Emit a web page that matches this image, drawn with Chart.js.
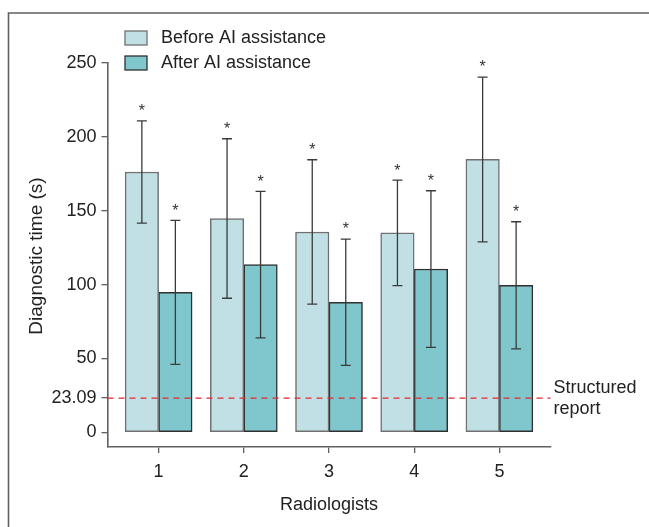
<!DOCTYPE html>
<html>
<head>
<meta charset="utf-8">
<script src="https://cdn.jsdelivr.net/npm/chart.js@4.4.1/dist/chart.umd.min.js"></script>
<style>
  html, body { margin: 0; padding: 0; background: #ffffff; }
  canvas { display: block; }
</style>
</head>
<body>
<canvas id="c" width="649" height="527"></canvas>
<script>
// ---- data ----
const categories = [1, 2, 3, 4, 5];
const seriesLabels = ['Before AI assistance', 'After AI assistance'];
const beforeMean = [176.2, 144.7, 135.6, 135.0, 184.7];
const beforeSD   = [34.6, 54.0, 48.9, 35.7, 55.8];
const afterMean  = [94.7, 113.5, 88.0, 110.5, 99.5];
const afterSD    = [48.8, 49.6, 42.8, 53.0, 43.0];
const yTickValues = [0, 23.09, 50, 100, 150, 200, 250];
const refValue = 23.09;
const refLabel = ['Structured', 'report'];
const xTitle = 'Radiologists';
const yTitle = 'Diagnostic time (s)';

const FONT = "'Liberation Sans', Arial, sans-serif";
const colBefore = '#c0e0e6', colAfter = '#80c6cd';
const borderBefore = '#707070', borderAfter = '#303030';

const sds = [beforeSD, afterSD];
const means = [beforeMean, afterMean];

const extras = {
  id: 'extras',
  beforeDraw(chart) {
    const ctx = chart.ctx;
    ctx.save();
    ctx.strokeStyle = '#606060';
    ctx.lineWidth = 1.6;
    ctx.beginPath();
    ctx.moveTo(8.5, 527);
    ctx.lineTo(8.5, 13);
    ctx.lineTo(649, 13);
    ctx.stroke();
    ctx.restore();
  },
  afterDatasetsDraw(chart) {
    const ctx = chart.ctx;
    const ys = chart.scales.y;
    const ca = chart.chartArea;
    ctx.save();
    // error bars + asterisks
    chart.data.datasets.forEach((ds, di) => {
      const meta = chart.getDatasetMeta(di);
      meta.data.forEach((el, i) => {
        const m = means[di][i], s = sds[di][i];
        const yl = ys.getPixelForValue(m - s);
        const yh = ys.getPixelForValue(m + s);
        const x = el.x;
        ctx.strokeStyle = '#3a3a3a';
        ctx.lineWidth = 1.3;
        ctx.beginPath();
        ctx.moveTo(x, yl); ctx.lineTo(x, yh);
        ctx.moveTo(x - 5, yl); ctx.lineTo(x + 5, yl);
        ctx.moveTo(x - 5, yh); ctx.lineTo(x + 5, yh);
        ctx.stroke();
        ctx.fillStyle = '#333';
        ctx.font = '16px ' + FONT;
        ctx.textAlign = 'center';
        ctx.textBaseline = 'middle';
        ctx.fillText('*', x, yh - 9);
      });
    });
    // reference line
    const yr = ys.getPixelForValue(refValue);
    ctx.strokeStyle = '#e8262c';
    ctx.lineWidth = 1.4;
    ctx.setLineDash([6, 5]);
    ctx.beginPath();
    ctx.moveTo(ca.left, yr); ctx.lineTo(ca.right, yr);
    ctx.stroke();
    ctx.setLineDash([]);
    ctx.fillStyle = '#222';
    ctx.font = '18px ' + FONT;
    ctx.textAlign = 'left';
    ctx.textBaseline = 'middle';
    ctx.fillText(refLabel[0], ca.right + 3, yr - 10);
    ctx.fillText(refLabel[1], ca.right + 3, yr + 11);
    // legend
    const fills = [colBefore, colAfter], borders = [borderBefore, borderAfter];
    seriesLabels.forEach((lab, i) => {
      const y0 = 31 + i * 25;
      ctx.fillStyle = fills[i];
      ctx.fillRect(125, y0, 22, 14);
      ctx.strokeStyle = borders[i];
      ctx.lineWidth = 1.3;
      ctx.strokeRect(125, y0, 22, 14);
      ctx.fillStyle = '#222';
      ctx.font = '18px ' + FONT;
      ctx.textBaseline = 'middle';
      ctx.textAlign = 'left';
      ctx.fillText(lab, 161, y0 + 7);
    });
    // axis titles
    ctx.font = '18px ' + FONT;
    ctx.textAlign = 'center';
    ctx.textBaseline = 'middle';
    ctx.fillText(xTitle, (ca.left + ca.right) / 2, 505);
    ctx.save();
    ctx.translate(37, 256);
    ctx.rotate(-Math.PI / 2);
    ctx.font = '19px ' + FONT;
    ctx.fillText(yTitle, 0, 0);
    ctx.restore();
    ctx.restore();
  }
};

new Chart(document.getElementById('c'), {
  type: 'bar',
  data: {
    datasets: [
      {
        label: seriesLabels[0],
        data: categories.map((c, i) => ({ x: c, y: beforeMean[i] })),
        backgroundColor: colBefore,
        borderColor: borderBefore,
        borderWidth: 1.5,
        borderSkipped: false
      },
      {
        label: seriesLabels[1],
        data: categories.map((c, i) => ({ x: c, y: afterMean[i] })),
        backgroundColor: colAfter,
        borderColor: borderAfter,
        borderWidth: 1.5,
        borderSkipped: false
      }
    ]
  },
  options: {
    responsive: false,
    animation: false,
    barThickness: 33.5,
    layout: { padding: { left: 0, right: 98.5, top: 63, bottom: 0 } },
    plugins: { legend: { display: false }, tooltip: { enabled: false } },
    scales: {
      x: {
        type: 'linear',
        offset: false,
        min: 0.4, max: 5.6,
        afterBuildTicks: (s) => { s.ticks = categories.map(v => ({ value: v })); },
        afterFit: (s) => { s.height = 80; },
        grid: { display: true, offset: false, drawOnChartArea: false, drawTicks: true, tickLength: 6, color: '#606060', lineWidth: 1.3 },
        border: { display: true, color: '#606060', width: 1.6 },
        ticks: { font: { family: FONT, size: 18 }, color: '#222', padding: 8, callback: (v) => String(v), maxRotation: 0 }
      },
      y: {
        type: 'linear',
        min: -10, max: 250,
        afterBuildTicks: (s) => { s.ticks = yTickValues.map(v => ({ value: v })); },
        afterFit: (s) => { s.width = 107.5; },
        grid: { display: true, drawOnChartArea: false, drawTicks: true, tickLength: 6, color: '#606060', lineWidth: 1.3 },
        border: { display: true, color: '#606060', width: 1.6 },
        ticks: { font: { family: FONT, size: 18 }, color: '#222', padding: 5, callback: (v) => String(v) }
      }
    }
  },
  plugins: [extras]
});
</script>
</body>
</html>
